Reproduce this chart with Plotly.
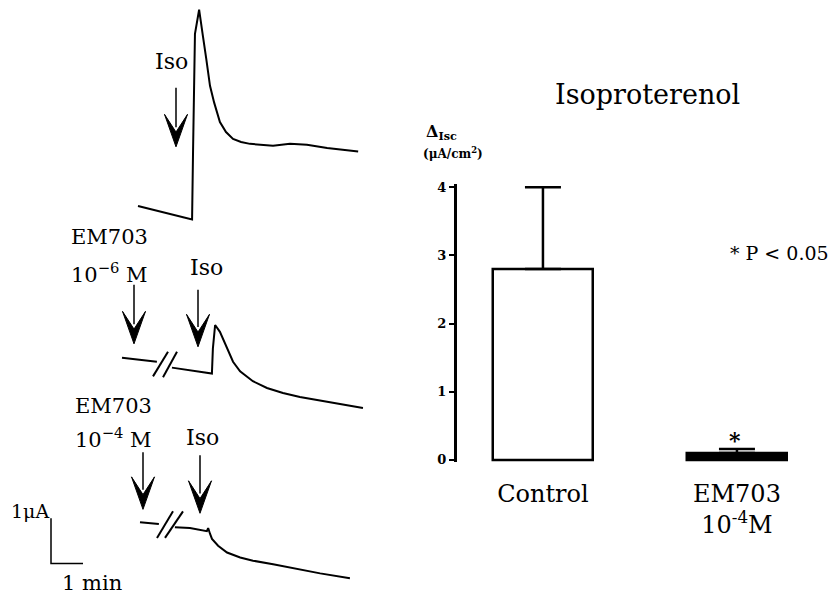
import plotly.graph_objects as go

W, H = 839, 604

# ---------------- Data: bar chart ----------------
groups = ["Control", "EM703<br>10<sup>-4</sup>M"]
group_pos = [0, 1]
delta_isc = [2.8, 0.1]          # ΔIsc (μA/cm²)
sem_up = [1.2, 0.06]
y_ticks = [0, 1, 2, 3, 4]

# ---------------- Data: Isc recordings (time in min, current in μA, relative to start) ----------------
t_iso = [0, 0.38, 0.84, 1.31, 1.69, 1.72, 1.78, 1.91, 1.97, 2.03, 2.13, 2.25, 2.38, 2.56, 2.75,
         2.97, 3.22, 3.5, 4.22, 4.75, 5.28, 5.91, 6.88]
i_iso = [0, -0.07, -0.15, -0.24, -0.30, 1.20, 3.80, 4.33, 4.07, 3.74, 3.26, 2.65, 2.28, 1.85, 1.63,
         1.48, 1.41, 1.37, 1.33, 1.37, 1.35, 1.28, 1.20]

t_em6 = [0, 0.56, 1.09, None, 1.56, 2.13, 2.81, 2.84, 2.91, 3.06, 3.28, 3.47, 3.69, 4.09, 4.53,
         5.03, 5.56, 6.59, 7.53]
i_em6 = [0, -0.04, -0.09, None, -0.22, -0.28, -0.35, 0.20, 0.72, 0.57, 0.20, -0.09, -0.30, -0.52, -0.67,
         -0.78, -0.87, -1.00, -1.11]

t_em4 = [0, 0.59, None, 1.09, 1.56, 2.09, 2.13, 2.19, 2.25, 2.44, 2.72, 3.13, 3.53, 4.16, 4.78,
         5.63, 6.56]
i_em4 = [0, -0.04, None, -0.11, -0.13, -0.20, -0.13, -0.26, -0.37, -0.52, -0.67, -0.78, -0.85, -0.93, -1.02,
         -1.13, -1.24]

# scale bar: 1 μA, 1 min
scale_t = [0, 0, 1]
scale_i = [1, 0, 0]

# ---------------- layout helpers ----------------
PX_PER_MIN = 32.0
PX_PER_UA = 46.0
LEFT_W = 400


def P(px, py):
    return px / W, 1 - py / H


def shift(vals, off):
    return [None if v is None else v + off for v in vals]


def ax_xy(px, py):
    return px / PX_PER_MIN, (H - py) / PX_PER_UA


FONT = "DejaVu Serif"
fig = go.Figure()

# recordings
rec_specs = [
    (t_iso, i_iso, (138, 205)),
    (t_em6, i_em6, (122, 359)),
    (t_em4, i_em4, (140, 526)),
]
for tt, ii, (sx, sy) in rec_specs:
    ox, oy = ax_xy(sx, sy)
    fig.add_trace(go.Scatter(x=shift(tt, ox), y=shift(ii, oy), xaxis="x2", yaxis="y2",
                             mode="lines", line=dict(color="black", width=2),
                             connectgaps=False, showlegend=False, hoverinfo="skip"))

ox, oy = ax_xy(51, 568)
fig.add_trace(go.Scatter(x=shift(scale_t, ox), y=shift(scale_i, oy), xaxis="x2", yaxis="y2",
                         mode="lines", line=dict(color="black", width=1.5),
                         showlegend=False, hoverinfo="skip"))

# bar chart
fig.add_trace(go.Bar(
    x=group_pos, y=delta_isc, width=0.515,
    marker=dict(color=["white", "black"], line=dict(color="black", width=[2.5, 2.5])),
    error_y=dict(type="data", symmetric=False, array=sem_up, arrayminus=[0, 0],
                 color="black", thickness=2.5, width=18),
    showlegend=False, hoverinfo="skip"))

shapes = []
# arrows (x, shaft top, tip)
arrows = [(176, 85, 145), (134, 285, 345), (198, 290, 348), (143, 455, 513), (200, 458, 517)]
for x, top, tip in arrows:
    x0, y0 = P(x, top)
    x1, y1 = P(x, tip - 20)
    shapes.append(dict(type="line", xref="paper", yref="paper", x0=x0, y0=y0, x1=x1, y1=y1,
                       line=dict(color="black", width=1.5)))
    pts = [P(x, tip), P(x - 11.5, tip - 33), P(x, tip - 15), P(x + 11.5, tip - 33)]
    path = "M " + " L ".join(f"{a:.5f},{b:.5f}" for a, b in pts) + " Z"
    shapes.append(dict(type="path", xref="paper", yref="paper", path=path,
                       fillcolor="black", line=dict(color="black", width=1)))

# break marks
breaks = [((153, 378), (168, 353)), ((163, 379), (177, 353)),
          ((157, 542), (173, 515)), ((165, 542), (183, 515))]
for (ax0, ay0), (ax1, ay1) in breaks:
    x0, y0 = P(ax0, ay0)
    x1, y1 = P(ax1, ay1)
    shapes.append(dict(type="line", xref="paper", yref="paper", x0=x0, y0=y0, x1=x1, y1=y1,
                       line=dict(color="black", width=2)))

annotations = []


def txt(text, px, py, size, xanchor="center", bold=False):
    x, y = P(px, py)
    annotations.append(dict(text=text, x=x, y=y, xref="paper", yref="paper", showarrow=False,
                            xanchor=xanchor, yanchor="middle",
                            font=dict(family=FONT, size=size, color="black",
                                      weight="bold" if bold else "normal")))


txt("Iso", 171, 58, 22)
txt("EM703", 69, 237, 21, "left")
txt("10<sup>−6</sup> M", 69, 273, 21, "left")
txt("Iso", 206, 267, 22)
txt("EM703", 73, 408, 21, "left")
txt("10<sup>−4</sup> M", 73, 441, 21, "left")
txt("Iso", 202, 440, 22)
txt("1μA", 30, 515, 19)
txt("1 min", 92, 588, 21)

txt("Isoproterenol", 647, 92, 27)
txt("Δ<sub>Isc</sub>", 424, 130, 16, "left", True)
txt("(μA/cm<sup>2</sup>)", 421, 151, 12, "left", True)
txt("* P < 0.05", 728, 253, 19, "left")
txt("*", 735, 443, 22, bold=True)

fig.update_layout(
    width=W, height=H, margin=dict(l=0, r=0, t=0, b=0),
    paper_bgcolor="white", plot_bgcolor="white",
    shapes=shapes, annotations=annotations, bargap=0,
    xaxis=dict(domain=[457 / W, 1], range=[-0.443, 1.526], tickvals=group_pos, ticktext=groups,
               ticks="outside", ticklen=10, tickcolor="rgba(0,0,0,0)", showline=False,
               showgrid=False, zeroline=False,
               tickfont=dict(family=FONT, size=24, color="black")),
    yaxis=dict(domain=[1 - 465 / H, 1 - 183 / H], range=[-0.033, 4.045], tickvals=y_ticks,
               ticks="outside", ticklen=5, tickwidth=2, tickcolor="black",
               showline=True, linewidth=3, linecolor="black",
               showgrid=False, zeroline=False,
               tickfont=dict(family=FONT, size=13, color="black", weight="bold")),
    xaxis2=dict(domain=[0, LEFT_W / W], range=[0, LEFT_W / PX_PER_MIN], visible=False),
    yaxis2=dict(domain=[0, 1], range=[0, H / PX_PER_UA], visible=False, anchor="x2"),
)
fig.update_layout(xaxis2_anchor="y2")

fig.write_html("out.html", config={"displayModeBar": False},
               post_script="document.body.style.margin='0';document.body.style.overflow='hidden';")
